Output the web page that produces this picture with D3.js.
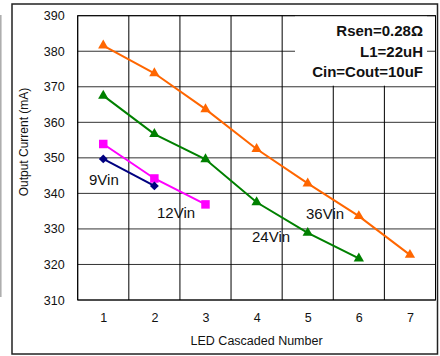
<!DOCTYPE html>
<html>
	<head>
		<style>
			body, html { margin: 0; padding: 0; background: #fff; }
			text { font-family: "Liberation Sans", Arial, sans-serif; }
		</style>
	</head>
	<body>
		<svg id="svg" width="440" height="356"></svg>
		<script src="https://d3js.org/d3.v7.min.js"></script>
		<script>
			// LED count on x, output current (mA) on y
			const ledCounts = [1, 2, 3, 4, 5, 6, 7];
			const yTicks = [310, 320, 330, 340, 350, 360, 370, 380, 390];
			const vin9 = [349.7, 342.1];
			const vin12 = [353.9, 344.2, 336.9];
			const vin24 = [367.5, 356.7, 349.6, 337.5, 328.9, 321.7];
			const vin36 = [381.6, 373.8, 363.7, 352.5, 342.8, 333.6, 322.7];
			const notes = ['Rsen=0.28Ω', 'L1=22uH', 'Cin=Cout=10uF'];

			const series = [
				{ name: '36Vin', values: vin36, color: '#ff6600', shape: 'tri', lx: 306, ly: 219 },
				{ name: '24Vin', values: vin24, color: '#008000', shape: 'tri', lx: 252, ly: 242 },
				{ name: '12Vin', values: vin12, color: '#ff00ff', shape: 'sq', lx: 157, ly: 218 },
				{ name: '9Vin', values: vin9, color: '#000080', shape: 'dia', lx: 89, ly: 185 }
			];

			const svg = d3.select('#svg');
			const plotL = 77.7, plotR = 435.5, plotT = 15.7, plotB = 300;

			const x = d3.scaleLinear().domain([0.5, 7.5]).range([plotL, plotR]);
			const y = d3.scaleLinear().domain([310, 390]).range([plotB, plotT]);

			// stray frame edge at far left
			svg.append('line')
				.attr('x1', 0.8).attr('x2', 0.8).attr('y1', 15).attr('y2', 297)
				.attr('stroke', '#aaa').attr('stroke-width', 1.5);

			// outer frame
			svg.append('rect')
				.attr('x', 12).attr('y', 4).attr('width', 425.5).attr('height', 350)
				.attr('fill', 'none').attr('stroke', '#222').attr('stroke-width', 1.5);

			// grid
			const grid = svg.append('g');
			grid.selectAll('.h')
				.data(yTicks)
				.enter()
				.append('line')
				.attr('x1', plotL).attr('x2', plotR)
				.attr('y1', (d) => y(d)).attr('y2', (d) => y(d))
				.attr('stroke', '#333').attr('stroke-width', 1);
			grid.selectAll('.v')
				.data(d3.range(0.5, 8, 1))
				.enter()
				.append('line')
				.attr('x1', (d) => x(d)).attr('x2', (d) => x(d))
				.attr('y1', plotT).attr('y2', plotB)
				.attr('stroke', '#000').attr('stroke-width', 1);

			// note box hides part of the grid
			svg.append('rect')
				.attr('x', 295).attr('y', plotT).attr('width', 132).attr('height', 70)
				.attr('fill', '#fff');
			svg.append('rect')
				.attr('x', plotL).attr('y', plotT).attr('width', plotR - plotL).attr('height', plotB - plotT)
				.attr('fill', 'none').attr('stroke', '#000').attr('stroke-width', 1);

			svg.selectAll('.note')
				.data(notes)
				.enter()
				.append('text')
				.attr('x', 423)
				.attr('y', (d, i) => 36 + i * 20.5)
				.attr('text-anchor', 'end')
				.attr('font-size', 15)
				.attr('font-weight', 'bold')
				.attr('fill', '#111')
				.text((d) => d);

			// axes labels
			const yAxis = d3.axisLeft(y).tickValues(yTicks).tickSize(0).tickPadding(13);
			const gy = svg.append('g').attr('transform', `translate(${plotL},0)`).call(yAxis);
			gy.select('.domain').remove();
			gy.selectAll('text').attr('font-size', 12.5).attr('font-family', '"Liberation Sans", Arial, sans-serif').attr('fill', '#111');

			const xAxis = d3.axisBottom(x).tickValues(ledCounts).tickFormat(d3.format('d')).tickSize(0).tickPadding(13);
			const gx = svg.append('g').attr('transform', `translate(0,${plotB})`).call(xAxis);
			gx.select('.domain').remove();
			gx.selectAll('text').attr('font-size', 12.5).attr('font-family', '"Liberation Sans", Arial, sans-serif').attr('fill', '#111');

			svg.append('text')
				.attr('x', (plotL + plotR) / 2).attr('y', 345)
				.attr('text-anchor', 'middle').attr('font-size', 12.5).attr('fill', '#111')
				.text('LED Cascaded Number');
			svg.append('text')
				.attr('transform', 'translate(28,142) rotate(-90)')
				.attr('text-anchor', 'middle').attr('font-size', 12).attr('fill', '#111')
				.text('Output Current (mA)');

			// series
			const line = d3.line()
				.x((d, i) => x(ledCounts[i]))
				.y((d) => y(d));
			const symbols = {
				tri: d3.symbol().type(d3.symbolTriangle).size(46),
				sq: d3.symbol().type(d3.symbolSquare).size(72),
				dia: d3.symbol().type(d3.symbolDiamond2).size(50)
			};
			series.forEach((s) => {
				svg.append('path')
					.attr('d', line(s.values))
					.attr('fill', 'none')
					.attr('stroke', s.color)
					.attr('stroke-width', 2);
				svg.append('g')
					.selectAll('path')
					.data(s.values)
					.enter()
					.append('path')
					.attr('transform', (d, i) => `translate(${x(ledCounts[i])},${y(d)})`)
					.attr('d', symbols[s.shape]())
					.attr('fill', s.color);
				svg.append('text')
					.attr('x', s.lx).attr('y', s.ly)
					.attr('font-size', 15).attr('fill', '#111')
					.text(s.name);
			});
		</script>
	</body>
</html>
